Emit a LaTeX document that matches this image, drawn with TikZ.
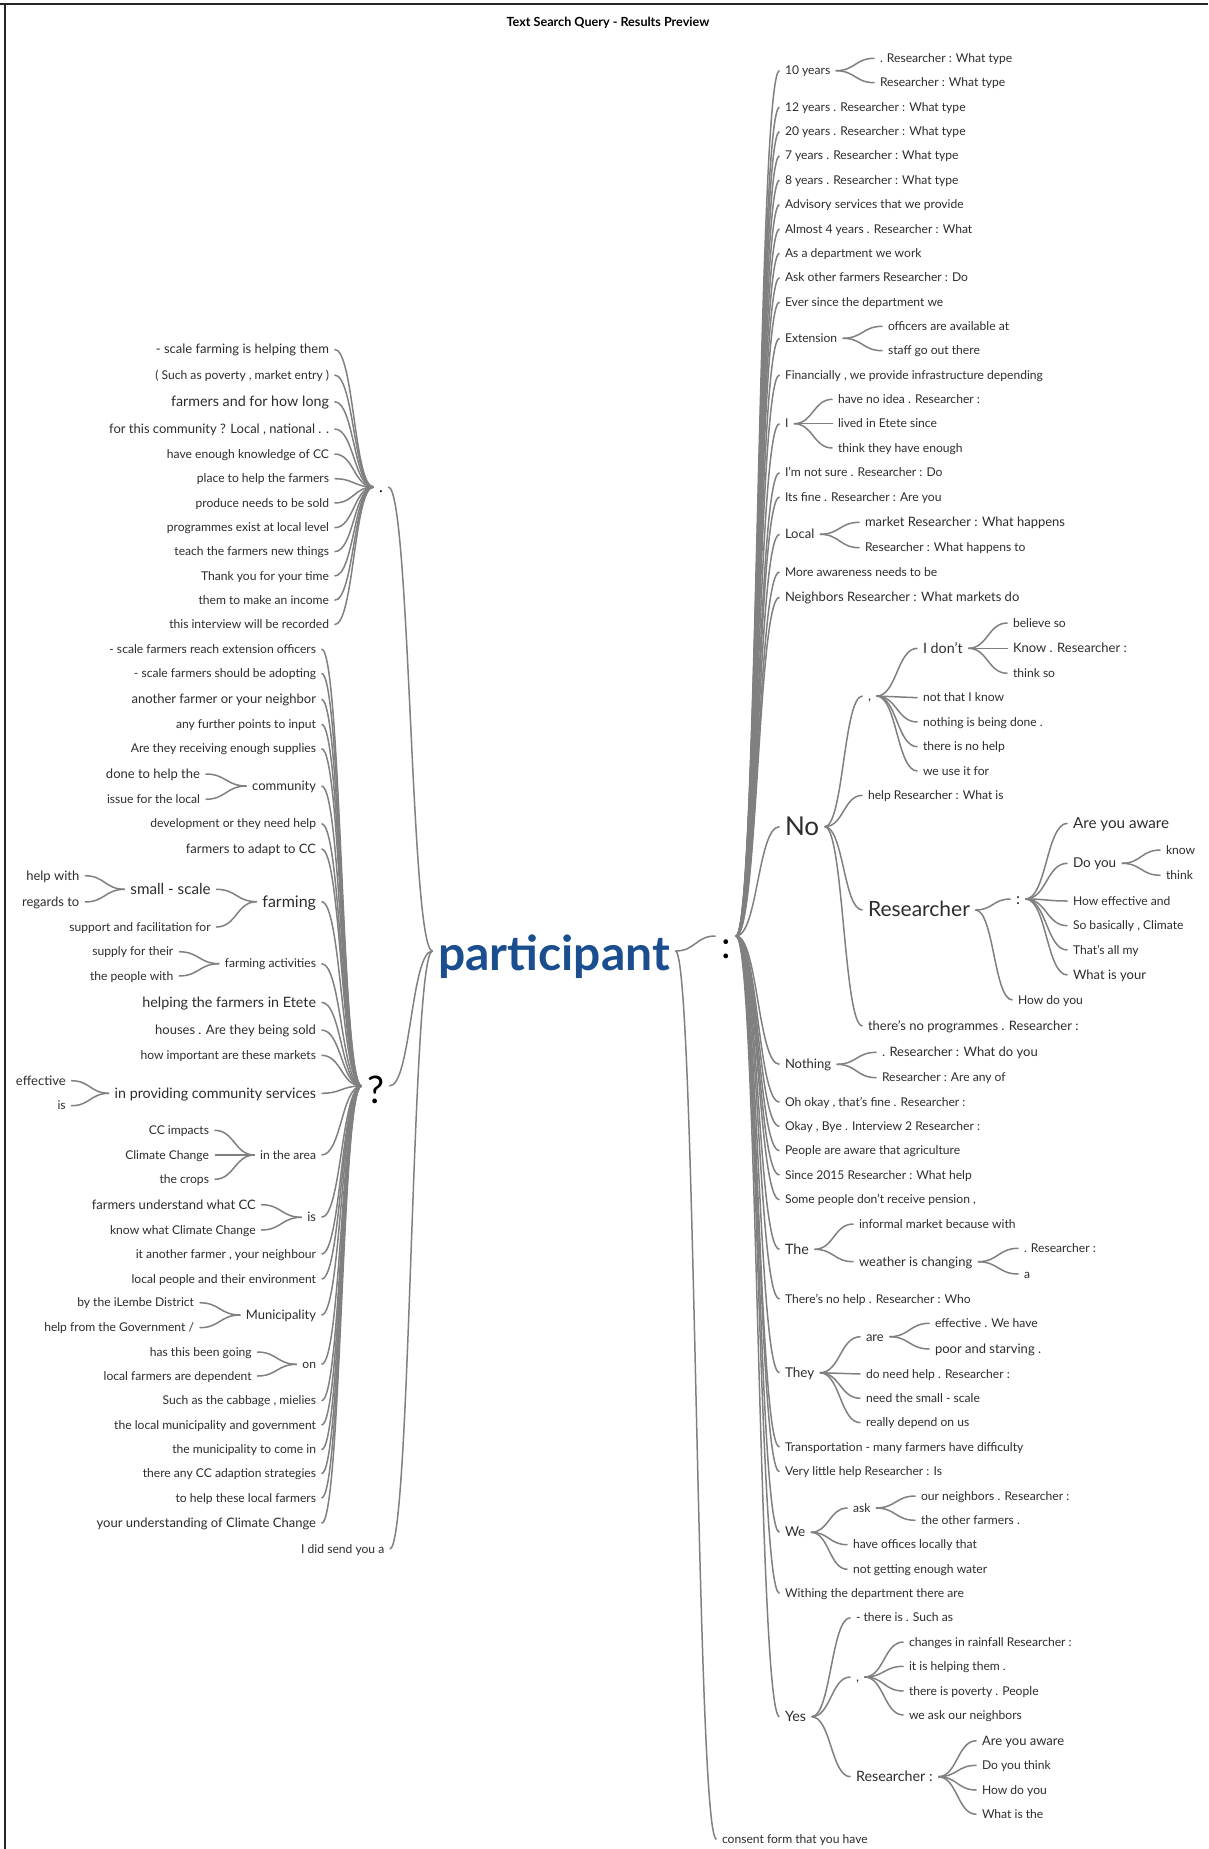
\documentclass[tikz,border=0pt]{standalone}
\usepackage{fontspec}
\setmainfont{Lato}
\usetikzlibrary{calc}
\definecolor{txt}{RGB}{45,45,45}
\definecolor{lnk}{RGB}{128,128,128}
\definecolor{pblue}{RGB}{26,78,142}
\tikzset{
 w/.style={inner sep=0pt, outer sep=0pt, text=txt},
 R/.style={w, anchor=west},
 L/.style={w, anchor=east},
 s0/.style={font=\fontsize{12.1}{14}\selectfont, text height=9.7pt, text depth=1.7pt},
 s1/.style={font=\fontsize{13}{15}\selectfont, text height=10.4pt, text depth=1.8pt},
 sA/.style={font=\fontsize{13.5}{16}\selectfont, text height=10.8pt, text depth=1.9pt},
 s2/.style={font=\fontsize{14.3}{17}\selectfont, text height=11.4pt, text depth=2pt},
 sB/.style={font=\fontsize{15.2}{18}\selectfont, text height=12.2pt, text depth=2.1pt},
 sF/.style={font=\fontsize{16}{19}\selectfont, text height=12.8pt, text depth=2.2pt},
 conn/.style={draw=lnk, line width=1.5pt},
}
\newcommand\wlink[2]{\draw[conn] let \p1=(#1.east), \p2=(#2.west), \n1={(\x2-\x1-11pt)*0.5} in (\x1+5.5pt,\y1) .. controls (\x1+5.5pt+\n1,\y1) and (\x2-5.5pt-\n1,\y2) .. (\x2-5.5pt,\y2);}
\begin{document}
\begin{tikzpicture}[x=1pt,y=-1pt]
\useasboundingbox (0,0) rectangle (1208,1849);
\fill[white] (0,0) rectangle (1208,1849);
\draw[line width=1.3pt, black!85] (0,4) -- (1208,4);
\draw[line width=1.3pt, black!85] (5,4) -- (5,1849);
\node[font=\bfseries\fontsize{12.6}{15}\selectfont, text=black] (title) at (608,23) {Text Search Query - Results Preview};

% centre
\node[w, anchor=west, font=\bfseries\fontsize{48}{50}\selectfont, text=pblue, text height=44pt, text depth=6pt] (part) at (438,951) {participant};
\node[w, anchor=west, font=\fontsize{38}{40}\selectfont, text=black, text height=48pt, text depth=4pt] (colonR) at (721,936) {:};
\node[w, anchor=west, font=\fontsize{38}{40}\selectfont, text=black, text height=38pt, text depth=4pt] (qL) at (367,1086) {?};
\node[w, anchor=west, font=\fontsize{16}{18}\selectfont, text=black, text height=13pt, text depth=2pt] (dotL) at (379,487) {.};
\node[R,s0] (consent) at (722,1839.3) {consent form that you have};
\node[L,s0] (send) at (384.3,1549) {I did send you a};

% right side
\node[R,s0] (a1) at (785,70.7) {10 years};
\node[R,s0] (a1a) at (880,58.3) {. Researcher : What type};
\node[R,s0] (a1b) at (880,82.7) {Researcher : What type};
\node[R,s0] (a2) at (785,107.3) {12 years . Researcher : What type};
\node[R,s0] (a3) at (785,131.7) {20 years . Researcher : What type};
\node[R,s0] (a4) at (785,156) {7 years . Researcher : What type};
\node[R,s0] (a5) at (785,180.3) {8 years . Researcher : What type};
\node[R,s0] (a6) at (785,204.7) {Advisory services that we provide};
\node[R,s0] (a7) at (785,229) {Almost 4 years . Researcher : What};
\node[R,s0] (a8) at (785,253.3) {As a department we work};
\node[R,s0] (a9) at (785,277.7) {Ask other farmers Researcher : Do};
\node[R,s0] (a10) at (785,302) {Ever since the department we};
\node[R,s0] (a11) at (785,338.3) {Extension};
\node[R,s0] (a11a) at (888,326.3) {officers are available at};
\node[R,s0] (a11b) at (888,350.7) {staff go out there};
\node[R,s0] (a12) at (785,375) {Financially , we provide infrastructure depending};
\node[R,s0] (a13) at (785,423.7) {I};
\node[R,s0] (a13a) at (838,399.3) {have no idea . Researcher :};
\node[R,s0] (a13b) at (838,423.7) {lived in Etete since};
\node[R,s0] (a13c) at (838,448) {think they have enough};
\node[R,s0] (a14) at (785,472.7) {I’m not sure . Researcher : Do};
\node[R,s0] (a15) at (785,497) {Its fine . Researcher : Are you};
\node[R,s1] (a16) at (785,534.3) {Local};
\node[R,s1] (a16a) at (865,522.3) {market Researcher : What happens};
\node[R,s0] (a16b) at (865,547.7) {Researcher : What happens to};
\node[R,s0] (a17) at (785,572) {More awareness needs to be};
\node[R,s1] (a18) at (785,597.3) {Neighbors Researcher : What markets do};
\node[R, font=\fontsize{26}{28}\selectfont, text height=20.8pt, text depth=3.6pt] (a19) at (785,826.7) {No};
\node[R,s1] (a19a) at (868,696) {,};
\node[R,s2] (a19a1) at (923,648.3) {I don’t};
\node[R,s0] (a19a1a) at (1013,623) {believe so};
\node[R,s1] (a19a1b) at (1013,648.3) {Know . Researcher :};
\node[R,s0] (a19a1c) at (1013,673.3) {think so};
\node[R,s0] (a19a2) at (923,697.7) {not that I know};
\node[R,s0] (a19a3) at (923,722) {nothing is being done .};
\node[R,s0] (a19a4) at (923,746.7) {there is no help};
\node[R,s0] (a19a5) at (923,771) {we use it for};
\node[R,s0] (a19b) at (868,795.3) {help Researcher : What is};
\node[R, font=\fontsize{21}{23}\selectfont, text height=16.8pt, text depth=2.9pt] (a19c) at (868,910) {Researcher};
\node[R, font=\fontsize{16}{18}\selectfont, text height=12.8pt, text depth=2.2pt] (a19c1) at (1016,899) {:};
\node[R,sB] (a19c1a) at (1073,823.3) {Are you aware};
\node[R,sA] (a19c1b) at (1073,863.3) {Do you};
\node[R,s0] (a19c1b1) at (1166,850) {know};
\node[R,s0] (a19c1b2) at (1166,875.3) {think};
\node[R,s0] (a19c1c) at (1073,901) {How effective and};
\node[R,s0] (a19c1d) at (1073,925.7) {So basically , Climate};
\node[R,s0] (a19c1e) at (1073,950) {That’s all my};
\node[R,s1] (a19c1f) at (1073,975) {What is your};
\node[R,s0] (a19c2) at (1018,1000) {How do you};
\node[R,s1] (a19d) at (868,1026) {there’s no programmes . Researcher :};
\node[R,s1] (a20) at (785,1064.3) {Nothing};
\node[R,s1] (a20a) at (882,1052.3) {. Researcher : What do you};
\node[R,s0] (a20b) at (882,1077.7) {Researcher : Are any of};
\node[R,s0] (a21) at (785,1102) {Oh okay , that’s fine . Researcher :};
\node[R,s0] (a22) at (785,1126.3) {Okay , Bye . Interview 2 Researcher :};
\node[R,s0] (a23) at (785,1150.7) {People are aware that agriculture};
\node[R,s0] (a24) at (785,1175) {Since 2015 Researcher : What help};
\node[R,s0] (a25) at (785,1199.7) {Some people don’t receive pension ,};
\node[R,s2] (a26) at (785,1249.3) {The};
\node[R,s0] (a26a) at (859,1224) {informal market because with};
\node[R,s1] (a26b) at (859,1261.7) {weather is changing};
\node[R,s0] (a26b1) at (1024,1248.3) {. Researcher :};
\node[R,s0] (a26b2) at (1024,1274) {a};
\node[R,s0] (a27) at (785,1299) {There’s no help . Researcher : Who};
\node[R,sA] (a28) at (785,1372.7) {They};
\node[R,s1] (a28a) at (866,1336.7) {are};
\node[R,s0] (a28a1) at (935,1323.3) {effective . We have};
\node[R,s1] (a28a2) at (935,1349) {poor and starving .};
\node[R,s0] (a28b) at (866,1374) {do need help . Researcher :};
\node[R,s0] (a28c) at (866,1398.3) {need the small - scale};
\node[R,s0] (a28d) at (866,1422.7) {really depend on us};
\node[R,s0] (a29) at (785,1447) {Transportation - many farmers have difficulty};
\node[R,s0] (a30) at (785,1471.7) {Very little help Researcher : Is};
\node[R,sA] (a31) at (785,1532.3) {We};
\node[R,s0] (a31a) at (853,1508) {ask};
\node[R,s0] (a31a1) at (921,1496) {our neighbors . Researcher :};
\node[R,s0] (a31a2) at (921,1520.3) {the other farmers .};
\node[R,s0] (a31b) at (853,1544.7) {have offices locally that};
\node[R,s0] (a31c) at (853,1569.3) {not getting enough water};
\node[R,s0] (a32) at (785,1593.3) {Withing the department there are};
\node[R,s2] (a33) at (785,1716.7) {Yes};
\node[R,s0] (a33a) at (856,1617.7) {- there is . Such as};
\node[R,s1] (a33b) at (856,1677) {,};
\node[R,s0] (a33b1) at (909,1642) {changes in rainfall Researcher :};
\node[R,s0] (a33b2) at (909,1666.3) {it is helping them .};
\node[R,s0] (a33b3) at (909,1691) {there is poverty . People};
\node[R,s0] (a33b4) at (909,1715) {we ask our neighbors};
\node[R,s2] (a33c) at (856,1776.7) {Researcher :};
\node[R,s1] (a33c1) at (982,1740.7) {Are you aware};
\node[R,s0] (a33c2) at (982,1765.3) {Do you think};
\node[R,s0] (a33c3) at (982,1790) {How do you};
\node[R,s0] (a33c4) at (982,1814.3) {What is the};

% left side, "."
\node[L,s1] (b1) at (329,349.3) {- scale farming is helping them};
\node[L,s0] (b2) at (329,375) {( Such as poverty , market entry )};
\node[L,s2] (b3) at (329,401.7) {farmers and for how long};
\node[L,s1] (b4) at (329,429) {for this community ? Local , national . .};
\node[L,s0] (b5) at (329,454) {have enough knowledge of CC};
\node[L,s0] (b6) at (329,478.7) {place to help the farmers};
\node[L,s0] (b7) at (329,503) {produce needs to be sold};
\node[L,s0] (b8) at (329,527.7) {programmes exist at local level};
\node[L,s0] (b9) at (329,551.7) {teach the farmers new things};
\node[L,s0] (b10) at (329,576) {Thank you for your time};
\node[L,s0] (b11) at (329,600.3) {them to make an income};
\node[L,s0] (b12) at (329,624.7) {this interview will be recorded};

% left side, "?"
\node[L,s0] (c1) at (316,649) {- scale farmers reach extension officers};
\node[L,s0] (c2) at (316,673.3) {- scale farmers should be adopting};
\node[L,s1] (c3) at (316,699.3) {another farmer or your neighbor};
\node[L,s0] (c4) at (316,724.3) {any further points to input};
\node[L,s0] (c5) at (316,748.7) {Are they receiving enough supplies};
\node[L,s1] (c6) at (316,786) {community};
\node[L,s1] (c6a) at (200,774) {done to help the};
\node[L,s0] (c6b) at (200,799.3) {issue for the local};
\node[L,s0] (c7) at (316,823.7) {development or they need help};
\node[L,s1] (c8) at (316,849) {farmers to adapt to CC};
\node[L,sF] (c9) at (316,901.7) {farming};
\node[L,sB] (c9a) at (210.7,889.3) {small - scale};
\node[L,s1] (c9a1) at (79.3,875.7) {help with};
\node[L,s1] (c9a2) at (79.3,902) {regards to};
\node[L,s0] (c9b) at (210.7,927) {support and facilitation for};
\node[L,s0] (c10) at (316,963.7) {farming activities};
\node[L,s0] (c10a) at (173.3,951.7) {supply for their};
\node[L,s0] (c10b) at (173.3,976) {the people with};
\node[L,s2] (c11) at (316,1002.3) {helping the farmers in Etete};
\node[L,s1] (c12) at (316,1030) {houses . Are they being sold};
\node[L,s0] (c13) at (316,1055.3) {how important are these markets};
\node[L,s2] (c14) at (316,1093.3) {in providing community services};
\node[L,s1] (c14a) at (65.7,1080.7) {effective};
\node[L,s0] (c14b) at (65.7,1105.7) {is};
\node[L,s0] (c15) at (316,1155) {in the area};
\node[L,s0] (c15a) at (209,1130.3) {CC impacts};
\node[L,s0] (c15b) at (209,1155) {Climate Change};
\node[L,s0] (c15c) at (209,1179.3) {the crops};
\node[L,s1] (c16) at (316,1217.3) {is};
\node[L,s1] (c16a) at (255.7,1204.7) {farmers understand what CC};
\node[L,s0] (c16b) at (255.7,1230) {know what Climate Change};
\node[L,s0] (c17) at (316,1254) {it another farmer , your neighbour};
\node[L,s0] (c18) at (316,1279) {local people and their environment};
\node[L,s1] (c19) at (316,1315) {Municipality};
\node[L,s0] (c19a) at (194,1302.7) {by the iLembe District};
\node[L,s0] (c19b) at (194,1327.7) {help from the Government /};
\node[L,s0] (c20) at (316,1364.3) {on};
\node[L,s0] (c20a) at (251.7,1352) {has this been going};
\node[L,s0] (c20b) at (251.7,1376) {local farmers are dependent};
\node[L,s0] (c21) at (316,1400.7) {Such as the cabbage , mielies};
\node[L,s0] (c22) at (316,1425) {the local municipality and government};
\node[L,s0] (c23) at (316,1449.7) {the municipality to come in};
\node[L,s0] (c24) at (316,1473.7) {there any CC adaption strategies};
\node[L,s0] (c25) at (316,1498) {to help these local farmers};
\node[L,s1] (c26) at (316,1523.3) {your understanding of Climate Change};

% connectors
\wlink{part}{colonR}
\wlink{part}{consent}
\wlink{dotL}{part}
\wlink{qL}{part}
\wlink{send}{part}
\foreach \ub in {a1,a2,a3,a4,a5,a6,a7,a8,a9,a10,a11,a12,a13,a14,a15,a16,a17,a18,a19,a20,a21,a22,a23,a24,a25,a26,a27,a28,a29,a30,a31,a32,a33} {\wlink{colonR}{\ub}}
\foreach \ua/\ub in {a1/a1a,a1/a1b,a11/a11a,a11/a11b,a13/a13a,a13/a13b,a13/a13c,a16/a16a,a16/a16b,
 a19/a19a,a19/a19b,a19/a19c,a19/a19d,a19a/a19a1,a19a/a19a2,a19a/a19a3,a19a/a19a4,a19a/a19a5,
 a19a1/a19a1a,a19a1/a19a1b,a19a1/a19a1c,a19c/a19c1,a19c/a19c2,a19c1/a19c1a,a19c1/a19c1b,a19c1/a19c1c,
 a19c1/a19c1d,a19c1/a19c1e,a19c1/a19c1f,a19c1b/a19c1b1,a19c1b/a19c1b2,a20/a20a,a20/a20b,a26/a26a,a26/a26b,
 a26b/a26b1,a26b/a26b2,a28/a28a,a28/a28b,a28/a28c,a28/a28d,a28a/a28a1,a28a/a28a2,a31/a31a,a31/a31b,a31/a31c,
 a31a/a31a1,a31a/a31a2,a33/a33a,a33/a33b,a33/a33c,a33b/a33b1,a33b/a33b2,a33b/a33b3,a33b/a33b4,
 a33c/a33c1,a33c/a33c2,a33c/a33c3,a33c/a33c4} {\wlink{\ua}{\ub}}
\foreach \ua in {b1,b2,b3,b4,b5,b6,b7,b8,b9,b10,b11,b12} {\wlink{\ua}{dotL}}
\foreach \ua in {c1,c2,c3,c4,c5,c6,c7,c8,c9,c10,c11,c12,c13,c14,c15,c16,c17,c18,c19,c20,c21,c22,c23,c24,c25,c26} {\wlink{\ua}{qL}}
\foreach \ua/\ub in {c6a/c6,c6b/c6,c9a/c9,c9b/c9,c9a1/c9a,c9a2/c9a,c10a/c10,c10b/c10,c14a/c14,c14b/c14,
 c15a/c15,c15b/c15,c15c/c15,c16a/c16,c16b/c16,c19a/c19,c19b/c19,c20a/c20,c20b/c20} {\wlink{\ua}{\ub}}
\end{tikzpicture}
\end{document}
